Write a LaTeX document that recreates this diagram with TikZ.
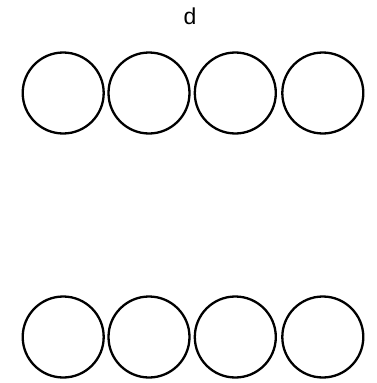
\documentclass[tikz,border=0pt]{standalone}
\usepackage{fontspec}
\setmainfont{Liberation Sans}
\newcommand{\labfont}{\fontsize{23}{27}\selectfont}
\begin{document}
\begin{tikzpicture}[x=1pt,y=-1pt,
  ball/.style={circle,draw=black,line width=2.3pt,minimum size=81pt,inner sep=0pt},
  lab/.style={inner sep=0pt}]
\useasboundingbox (0,0) rectangle (376,383);
\node[lab,anchor=base] (d) at (190,24) {\labfont d};
\node[ball] (t1) at (63.2,93) {};
\node[ball] (t2) at (149,93) {};
\node[ball] (t3) at (235.3,93) {};
\node[ball] (t4) at (322.8,93) {};
\node[ball] (b1) at (63.2,337) {};
\node[ball] (b2) at (149,337) {};
\node[ball] (b3) at (235.3,337) {};
\node[ball] (b4) at (322.8,337) {};
\end{tikzpicture}
\end{document}
